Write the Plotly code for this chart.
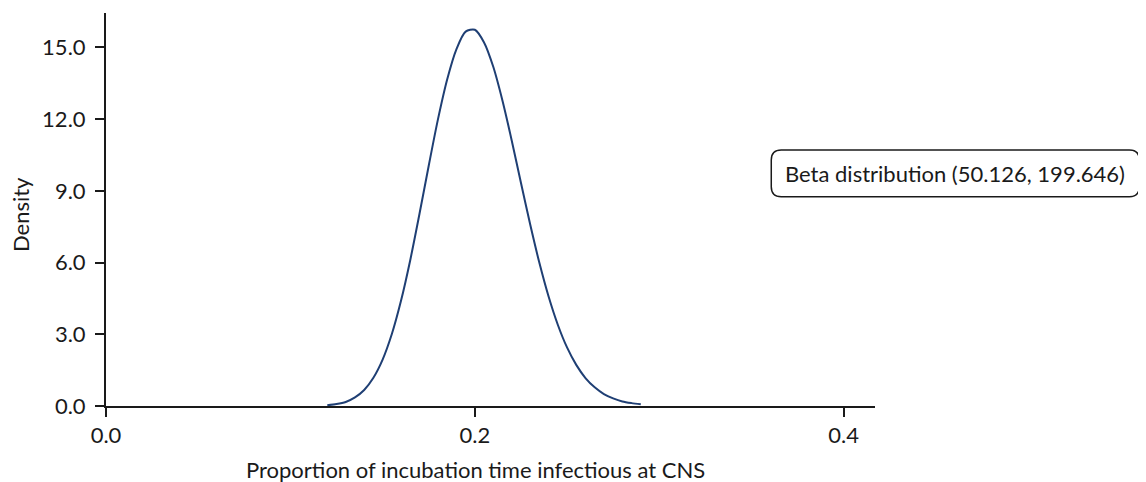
import plotly.graph_objects as go

# Density curve (x = proportion, y = density)
proportion = [0.120, 0.125, 0.130, 0.135, 0.140, 0.145, 0.150, 0.155, 0.160,
              0.165, 0.170, 0.175, 0.180, 0.185, 0.190, 0.195, 0.200,
              0.205, 0.210, 0.215, 0.220, 0.225, 0.230, 0.235, 0.240, 0.245,
              0.250, 0.255, 0.260, 0.265, 0.270, 0.275, 0.280, 0.285, 0.290]
density = [0.03, 0.08, 0.17, 0.36, 0.67, 1.18, 1.94, 3.01, 4.41,
           6.11, 8.04, 10.05, 11.99, 13.66, 14.92, 15.66, 15.74,
           15.21, 14.19, 12.77, 11.11, 9.34, 7.60, 5.99, 4.58, 3.40,
           2.45, 1.72, 1.17, 0.78, 0.50, 0.32, 0.19, 0.12, 0.07]

x_ticks = [0.0, 0.2, 0.4]
y_ticks = [0.0, 3.0, 6.0, 9.0, 12.0, 15.0]
label = "Beta distribution (50.126, 199.646)"

# the page body has an 8px margin, so the figure sits 8px in from the corner
OFF = 8
W, H = 1146 - OFF, 482 - OFF
L, R, T, B = 106 - OFF, 875.5 - OFF, 13 - OFF, 406 - OFF   # plot area in figure pixels


def px(x):
    # screen pixel -> paper x
    return (x - OFF - L) / (R - L)


def py(y):
    # screen pixel -> paper y
    return (B - (y - OFF)) / (B - T)


FONT = "Lato, 'Open Sans', sans-serif"
INK = "#1a1a1a"
FS = 22

fig = go.Figure()
fig.add_trace(
    go.Scatter(
        x=proportion,
        y=density,
        mode="lines",
        line=dict(color="#1f3f74", width=2, shape="spline", smoothing=0.8),
        hoverinfo="skip",
        showlegend=False,
    )
)

# rounded label box
bx0, bx1, by0, by1, r = 771.7, 1140, 150, 196.7, 10
path = (
    f"M {px(bx0 + r)} {py(by0)} L {px(bx1 - r)} {py(by0)} "
    f"Q {px(bx1)} {py(by0)} {px(bx1)} {py(by0 + r)} "
    f"L {px(bx1)} {py(by1 - r)} "
    f"Q {px(bx1)} {py(by1)} {px(bx1 - r)} {py(by1)} "
    f"L {px(bx0 + r)} {py(by1)} "
    f"Q {px(bx0)} {py(by1)} {px(bx0)} {py(by1 - r)} "
    f"L {px(bx0)} {py(by0 + r)} "
    f"Q {px(bx0)} {py(by0)} {px(bx0 + r)} {py(by0)} Z"
)
fig.add_shape(type="path", path=path, xref="paper", yref="paper",
              line=dict(color=INK, width=1.5), fillcolor="white")

fig.add_annotation(text=label, xref="paper", yref="paper",
                   x=px((bx0 + bx1) / 2), y=py((by0 + by1) / 2),
                   showarrow=False, xanchor="center", yanchor="middle",
                   font=dict(family=FONT, size=FS, color=INK))

# axis titles
fig.add_annotation(text="Proportion of incubation time infectious at CNS",
                   xref="paper", yref="paper", x=px(476), y=py(469),
                   showarrow=False, xanchor="center", yanchor="middle",
                   font=dict(family=FONT, size=FS, color=INK))
fig.add_annotation(text="Density", xref="paper", yref="paper",
                   x=px(20), y=py(215), textangle=-90,
                   showarrow=False, xanchor="center", yanchor="middle",
                   font=dict(family=FONT, size=FS, color=INK))

axis_style = dict(
    showline=True, linecolor=INK, linewidth=2,
    ticks="outside", ticklen=9, tickwidth=2, tickcolor=INK,
    showgrid=False, zeroline=False, tickformat=".1f",
    tickfont=dict(family=FONT, size=FS, color=INK),
    fixedrange=True,
)

fig.update_xaxes(range=[0, 0.417], tickvals=x_ticks, **axis_style)
fig.update_yaxes(range=[0, 16.44], tickvals=y_ticks, ticklabelstandoff=5, **axis_style)

fig.update_layout(
    width=W, height=H,
    margin=dict(l=L, r=W - R, t=T, b=H - B, pad=0),
    plot_bgcolor="white", paper_bgcolor="white",
    font=dict(family=FONT, color=INK),
)

fig.write_html("out.html")
